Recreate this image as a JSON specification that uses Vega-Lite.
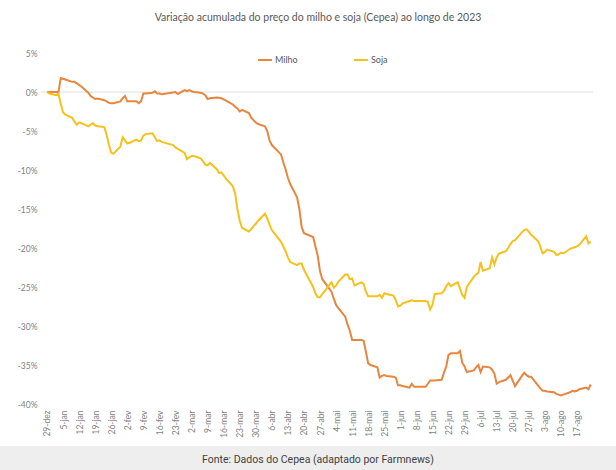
{
  "$schema": "https://vega.github.io/schema/vega-lite/v6.json",
  "background": "white",
  "padding": {"left": 0, "right": 0, "top": 12, "bottom": 0},
  "spacing": 8,
  "columns": 1,
  "align": "none",
  "title": {"text": "Variação acumulada do preço do milho e soja (Cepea) ao longo de 2023", "font": "Lato", "fontSize": 10.5, "fontWeight": "normal", "color": "#595959", "anchor": "middle", "offset": 26, "dx": 10},
  "config": {"view": {"stroke": null}, "font": "Lato"},
  "concat": [
    {
      "width": 594,
      "height": 351,
      "resolve": {"axis": {"x": "independent", "y": "independent"}},
      "layer": [
        {
          "data": {"values": [{"z": 0}]},
          "mark": {"type": "rule", "color": "#dedede", "strokeWidth": 1},
          "encoding": {
            "y": {"field": "z", "type": "quantitative", "axis": null},
            "x": {"datum": {"year": 2022, "month": 12, "date": 26, "hours": 12}, "type": "temporal", "axis": null},
            "x2": {"datum": {"year": 2023, "month": 8, "date": 24}}
          }
        },
        {
          "data": {"values": [
            {"d": "2022/12/29", "Milho": 0, "Soja": 0},
            {"d": "2022/12/30", "Milho": 0, "Soja": -0.2},
            {"d": "2023/01/02", "Milho": 0, "Soja": -0.4},
            {"d": "2023/01/03", "Milho": 0, "Soja": -0.2},
            {"d": "2023/01/04", "Milho": 1.8, "Soja": -1.5},
            {"d": "2023/01/05", "Milho": 1.7, "Soja": -2.6},
            {"d": "2023/01/06", "Milho": 1.6, "Soja": -2.9},
            {"d": "2023/01/09", "Milho": 1.3, "Soja": -3.3},
            {"d": "2023/01/10", "Milho": 1.3, "Soja": -3.8},
            {"d": "2023/01/11", "Milho": 1.1, "Soja": -4.2},
            {"d": "2023/01/12", "Milho": 0.9, "Soja": -3.9},
            {"d": "2023/01/13", "Milho": 0.7, "Soja": -4.0},
            {"d": "2023/01/16", "Milho": -0.1, "Soja": -4.4},
            {"d": "2023/01/17", "Milho": -0.5, "Soja": -4.2},
            {"d": "2023/01/18", "Milho": -0.7, "Soja": -4.0},
            {"d": "2023/01/19", "Milho": -0.9, "Soja": -4.3},
            {"d": "2023/01/20", "Milho": -0.85, "Soja": -4.4},
            {"d": "2023/01/23", "Milho": -1.05, "Soja": -4.5},
            {"d": "2023/01/24", "Milho": -1.2, "Soja": -5.5},
            {"d": "2023/01/25", "Milho": -1.4, "Soja": -6.8},
            {"d": "2023/01/26", "Milho": -1.45, "Soja": -7.8},
            {"d": "2023/01/27", "Milho": -1.45, "Soja": -7.9},
            {"d": "2023/01/30", "Milho": -1.2, "Soja": -7.0},
            {"d": "2023/01/31", "Milho": -0.8, "Soja": -5.8},
            {"d": "2023/02/01", "Milho": -0.5, "Soja": -6.2},
            {"d": "2023/02/02", "Milho": -1.2, "Soja": -6.6},
            {"d": "2023/02/03", "Milho": -1.2, "Soja": -6.5},
            {"d": "2023/02/06", "Milho": -1.2, "Soja": -6.1},
            {"d": "2023/02/07", "Milho": -1.45, "Soja": -6.3},
            {"d": "2023/02/08", "Milho": -1.2, "Soja": -6.2},
            {"d": "2023/02/09", "Milho": -0.2, "Soja": -5.6},
            {"d": "2023/02/10", "Milho": -0.2, "Soja": -5.4},
            {"d": "2023/02/13", "Milho": -0.1, "Soja": -5.3},
            {"d": "2023/02/14", "Milho": 0.1, "Soja": -5.8},
            {"d": "2023/02/15", "Milho": -0.2, "Soja": -6.3},
            {"d": "2023/02/16", "Milho": -0.2, "Soja": -6.2},
            {"d": "2023/02/17", "Milho": -0.3, "Soja": -6.4},
            {"d": "2023/02/22", "Milho": -0.05, "Soja": -6.8},
            {"d": "2023/02/23", "Milho": 0.0, "Soja": -7.1},
            {"d": "2023/02/24", "Milho": -0.25, "Soja": -7.3},
            {"d": "2023/02/27", "Milho": 0.25, "Soja": -7.8},
            {"d": "2023/02/28", "Milho": 0.1, "Soja": -8.6},
            {"d": "2023/03/01", "Milho": 0.25, "Soja": -8.4},
            {"d": "2023/03/02", "Milho": 0.1, "Soja": -8.2},
            {"d": "2023/03/03", "Milho": 0.0, "Soja": -8.2},
            {"d": "2023/03/06", "Milho": -0.1, "Soja": -8.5},
            {"d": "2023/03/07", "Milho": -0.2, "Soja": -8.9},
            {"d": "2023/03/08", "Milho": -0.4, "Soja": -9.3},
            {"d": "2023/03/09", "Milho": -0.9, "Soja": -9.4},
            {"d": "2023/03/10", "Milho": -0.8, "Soja": -9.1},
            {"d": "2023/03/13", "Milho": -0.7, "Soja": -9.9},
            {"d": "2023/03/14", "Milho": -0.75, "Soja": -10.4},
            {"d": "2023/03/15", "Milho": -0.8, "Soja": -10.3},
            {"d": "2023/03/16", "Milho": -0.95, "Soja": -10.7},
            {"d": "2023/03/17", "Milho": -1.1, "Soja": -11.1},
            {"d": "2023/03/20", "Milho": -1.6, "Soja": -12.1},
            {"d": "2023/03/21", "Milho": -1.9, "Soja": -13.0},
            {"d": "2023/03/22", "Milho": -2.1, "Soja": -15.0},
            {"d": "2023/03/23", "Milho": -2.5, "Soja": -16.5},
            {"d": "2023/03/24", "Milho": -2.3, "Soja": -17.4},
            {"d": "2023/03/27", "Milho": -2.7, "Soja": -17.9},
            {"d": "2023/03/28", "Milho": -3.3, "Soja": -17.6},
            {"d": "2023/03/29", "Milho": -3.6, "Soja": -17.2},
            {"d": "2023/03/30", "Milho": -3.9, "Soja": -16.9},
            {"d": "2023/03/31", "Milho": -4.1, "Soja": -16.5},
            {"d": "2023/04/03", "Milho": -4.4, "Soja": -15.6},
            {"d": "2023/04/04", "Milho": -5.0, "Soja": -16.2},
            {"d": "2023/04/05", "Milho": -6.2, "Soja": -17.0},
            {"d": "2023/04/06", "Milho": -6.8, "Soja": -17.7},
            {"d": "2023/04/10", "Milho": -8.0, "Soja": -19.2},
            {"d": "2023/04/11", "Milho": -9.0, "Soja": -19.8},
            {"d": "2023/04/12", "Milho": -9.9, "Soja": -20.4},
            {"d": "2023/04/13", "Milho": -11.0, "Soja": -21.2},
            {"d": "2023/04/14", "Milho": -11.8, "Soja": -21.8},
            {"d": "2023/04/17", "Milho": -13.5, "Soja": -22.2},
            {"d": "2023/04/18", "Milho": -15.0, "Soja": -22.0},
            {"d": "2023/04/19", "Milho": -17.3, "Soja": -22.0},
            {"d": "2023/04/20", "Milho": -18.1, "Soja": -22.8},
            {"d": "2023/04/24", "Milho": -18.6, "Soja": -25.0},
            {"d": "2023/04/25", "Milho": -19.8, "Soja": -25.8},
            {"d": "2023/04/26", "Milho": -21.0, "Soja": -26.3},
            {"d": "2023/04/27", "Milho": -23.0, "Soja": -26.3},
            {"d": "2023/04/28", "Milho": -24.0, "Soja": -25.9},
            {"d": "2023/05/02", "Milho": -25.6, "Soja": -24.4},
            {"d": "2023/05/03", "Milho": -26.5, "Soja": -25.1},
            {"d": "2023/05/04", "Milho": -27.3, "Soja": -24.8},
            {"d": "2023/05/05", "Milho": -27.7, "Soja": -24.3},
            {"d": "2023/05/08", "Milho": -28.8, "Soja": -23.4},
            {"d": "2023/05/09", "Milho": -29.8, "Soja": -23.4},
            {"d": "2023/05/10", "Milho": -30.6, "Soja": -24.0},
            {"d": "2023/05/11", "Milho": -31.8, "Soja": -23.9},
            {"d": "2023/05/12", "Milho": -31.8, "Soja": -24.8},
            {"d": "2023/05/15", "Milho": -31.8, "Soja": -24.4},
            {"d": "2023/05/16", "Milho": -31.9, "Soja": -24.6},
            {"d": "2023/05/17", "Milho": -33.3, "Soja": -25.6},
            {"d": "2023/05/18", "Milho": -34.8, "Soja": -26.2},
            {"d": "2023/05/19", "Milho": -35.0, "Soja": -26.2},
            {"d": "2023/05/22", "Milho": -35.3, "Soja": -26.2},
            {"d": "2023/05/23", "Milho": -36.6, "Soja": -26.0},
            {"d": "2023/05/24", "Milho": -36.4, "Soja": -26.4},
            {"d": "2023/05/25", "Milho": -36.3, "Soja": -25.8},
            {"d": "2023/05/26", "Milho": -36.4, "Soja": -25.9},
            {"d": "2023/05/29", "Milho": -36.5, "Soja": -26.1},
            {"d": "2023/05/30", "Milho": -36.6, "Soja": -26.7},
            {"d": "2023/05/31", "Milho": -37.6, "Soja": -27.5},
            {"d": "2023/06/01", "Milho": -37.6, "Soja": -27.4},
            {"d": "2023/06/02", "Milho": -37.7, "Soja": -27.1},
            {"d": "2023/06/05", "Milho": -37.9, "Soja": -26.8},
            {"d": "2023/06/06", "Milho": -37.4, "Soja": -26.7},
            {"d": "2023/06/07", "Milho": -37.8, "Soja": -26.8},
            {"d": "2023/06/09", "Milho": -37.8, "Soja": -26.8},
            {"d": "2023/06/12", "Milho": -37.8, "Soja": -26.8},
            {"d": "2023/06/13", "Milho": -37.4, "Soja": -26.9},
            {"d": "2023/06/14", "Milho": -37.0, "Soja": -27.9},
            {"d": "2023/06/15", "Milho": -37.0, "Soja": -27.3},
            {"d": "2023/06/16", "Milho": -37.0, "Soja": -25.9},
            {"d": "2023/06/19", "Milho": -36.9, "Soja": -25.8},
            {"d": "2023/06/20", "Milho": -36.0, "Soja": -25.5},
            {"d": "2023/06/21", "Milho": -35.2, "Soja": -24.9},
            {"d": "2023/06/22", "Milho": -33.7, "Soja": -24.5},
            {"d": "2023/06/23", "Milho": -33.5, "Soja": -24.9},
            {"d": "2023/06/26", "Milho": -33.5, "Soja": -24.4},
            {"d": "2023/06/27", "Milho": -33.2, "Soja": -25.2},
            {"d": "2023/06/28", "Milho": -34.7, "Soja": -26.0},
            {"d": "2023/06/29", "Milho": -35.2, "Soja": -26.4},
            {"d": "2023/06/30", "Milho": -35.9, "Soja": -25.0},
            {"d": "2023/07/03", "Milho": -35.7, "Soja": -23.7},
            {"d": "2023/07/04", "Milho": -35.3, "Soja": -23.4},
            {"d": "2023/07/05", "Milho": -35.0, "Soja": -23.2},
            {"d": "2023/07/06", "Milho": -35.9, "Soja": -21.8},
            {"d": "2023/07/07", "Milho": -35.2, "Soja": -22.9},
            {"d": "2023/07/10", "Milho": -35.3, "Soja": -22.6},
            {"d": "2023/07/11", "Milho": -35.6, "Soja": -21.2},
            {"d": "2023/07/12", "Milho": -36.1, "Soja": -22.1},
            {"d": "2023/07/13", "Milho": -37.4, "Soja": -21.2},
            {"d": "2023/07/14", "Milho": -37.2, "Soja": -20.7},
            {"d": "2023/07/17", "Milho": -36.9, "Soja": -20.4},
            {"d": "2023/07/18", "Milho": -36.6, "Soja": -20.0},
            {"d": "2023/07/19", "Milho": -36.3, "Soja": -19.5},
            {"d": "2023/07/20", "Milho": -37.0, "Soja": -19.1},
            {"d": "2023/07/21", "Milho": -37.7, "Soja": -19.0},
            {"d": "2023/07/24", "Milho": -36.4, "Soja": -18.0},
            {"d": "2023/07/25", "Milho": -36.0, "Soja": -17.7},
            {"d": "2023/07/26", "Milho": -36.3, "Soja": -17.6},
            {"d": "2023/07/27", "Milho": -36.5, "Soja": -17.9},
            {"d": "2023/07/28", "Milho": -36.5, "Soja": -18.3},
            {"d": "2023/07/31", "Milho": -37.6, "Soja": -19.1},
            {"d": "2023/08/01", "Milho": -38.0, "Soja": -19.8},
            {"d": "2023/08/02", "Milho": -38.3, "Soja": -20.7},
            {"d": "2023/08/03", "Milho": -38.3, "Soja": -20.5},
            {"d": "2023/08/04", "Milho": -38.4, "Soja": -20.2},
            {"d": "2023/08/07", "Milho": -38.5, "Soja": -20.5},
            {"d": "2023/08/08", "Milho": -38.7, "Soja": -20.9},
            {"d": "2023/08/09", "Milho": -38.8, "Soja": -20.8},
            {"d": "2023/08/10", "Milho": -38.9, "Soja": -20.6},
            {"d": "2023/08/11", "Milho": -38.8, "Soja": -20.7},
            {"d": "2023/08/14", "Milho": -38.5, "Soja": -20.1},
            {"d": "2023/08/15", "Milho": -38.3, "Soja": -20.0},
            {"d": "2023/08/16", "Milho": -38.4, "Soja": -19.9},
            {"d": "2023/08/17", "Milho": -38.3, "Soja": -19.8},
            {"d": "2023/08/18", "Milho": -38.1, "Soja": -19.6},
            {"d": "2023/08/21", "Milho": -37.9, "Soja": -18.5},
            {"d": "2023/08/22", "Milho": -38.1, "Soja": -19.4},
            {"d": "2023/08/23", "Milho": -37.5, "Soja": -19.2}
          ]},
          "transform": [{"fold": ["Milho", "Soja"], "as": ["serie", "var"]}],
          "mark": {"type": "line", "strokeWidth": 2, "interpolate": "linear"},
          "encoding": {
            "x": {
              "field": "d", "type": "temporal",
              "scale": {"domain": [{"year": 2022, "month": 12, "date": 8, "hours": 12, "minutes": 30}, {"year": 2023, "month": 8, "date": 24, "hours": 10}], "nice": false},
              "axis": {
                "title": null, "grid": false, "domain": false, "ticks": false,
                "labelAngle": -90, "labelAlign": "right", "labelBaseline": "middle",
                "labelPadding": 6, "labelFontSize": 8.5, "labelColor": "#7f7f7f", "labelFont": "Lato",
                "labelOverlap": false, "labelFlush": false,
                "values": [
                  {"year": 2022, "month": 12, "date": 29},
                  {"year": 2023, "month": 1, "date": 5},
                  {"year": 2023, "month": 1, "date": 12},
                  {"year": 2023, "month": 1, "date": 19},
                  {"year": 2023, "month": 1, "date": 26},
                  {"year": 2023, "month": 2, "date": 2},
                  {"year": 2023, "month": 2, "date": 9},
                  {"year": 2023, "month": 2, "date": 16},
                  {"year": 2023, "month": 2, "date": 23},
                  {"year": 2023, "month": 3, "date": 2},
                  {"year": 2023, "month": 3, "date": 9},
                  {"year": 2023, "month": 3, "date": 16},
                  {"year": 2023, "month": 3, "date": 23},
                  {"year": 2023, "month": 3, "date": 30},
                  {"year": 2023, "month": 4, "date": 6},
                  {"year": 2023, "month": 4, "date": 13},
                  {"year": 2023, "month": 4, "date": 20},
                  {"year": 2023, "month": 4, "date": 27},
                  {"year": 2023, "month": 5, "date": 4},
                  {"year": 2023, "month": 5, "date": 11},
                  {"year": 2023, "month": 5, "date": 18},
                  {"year": 2023, "month": 5, "date": 25},
                  {"year": 2023, "month": 6, "date": 1},
                  {"year": 2023, "month": 6, "date": 8},
                  {"year": 2023, "month": 6, "date": 15},
                  {"year": 2023, "month": 6, "date": 22},
                  {"year": 2023, "month": 6, "date": 29},
                  {"year": 2023, "month": 7, "date": 6},
                  {"year": 2023, "month": 7, "date": 13},
                  {"year": 2023, "month": 7, "date": 20},
                  {"year": 2023, "month": 7, "date": 27},
                  {"year": 2023, "month": 8, "date": 3},
                  {"year": 2023, "month": 8, "date": 10},
                  {"year": 2023, "month": 8, "date": 17}
                ],
                "labelExpr": "date(datum.value) + '-' + ['jan','fev','mar','abr','mai','jun','jul','ago','set','out','nov','dez'][month(datum.value)]"
              }
            },
            "y": {
              "field": "var", "type": "quantitative",
              "scale": {"domain": [-40, 5], "nice": false, "zero": false},
              "axis": {
                "title": null, "domain": false, "ticks": false, "grid": false,
                "offset": -42,
                "values": [-40, -35, -30, -25, -20, -15, -10, -5, 0, 5],
                "labelExpr": "datum.value + '%'",
                "labelOverlap": false, "labelFlush": false,
                "labelPadding": 5, "labelFontSize": 8.5, "labelColor": "#7f7f7f", "labelFont": "Lato"
              }
            },
            "color": {
              "field": "serie", "type": "nominal",
              "scale": {"domain": ["Milho", "Soja"], "range": ["#E6863F", "#F3C21C"]},
              "legend": {
                "title": null, "orient": "none", "direction": "horizontal",
                "legendX": 257, "legendY": -1,
                "symbolType": "stroke", "symbolSize": 196, "symbolStrokeWidth": 2,
                "labelFontSize": 9, "labelColor": "#595959", "labelFont": "Lato", "labelOffset": 2,
                "columnPadding": 52
              }
            }
          }
        }
      ]
    },
    {
      "width": 616,
      "height": 24,
      "view": {"fill": "#eeeeee", "stroke": null},
      "data": {"values": [{"t": "Fonte: Dados do Cepea (adaptado por Farmnews)"}]},
      "mark": {"type": "text", "font": "Roboto", "fontSize": 10.5, "color": "#404040", "baseline": "middle", "align": "center", "dx": 10, "dy": 2},
      "encoding": {"text": {"field": "t", "type": "nominal"}}
    }
  ]
}
